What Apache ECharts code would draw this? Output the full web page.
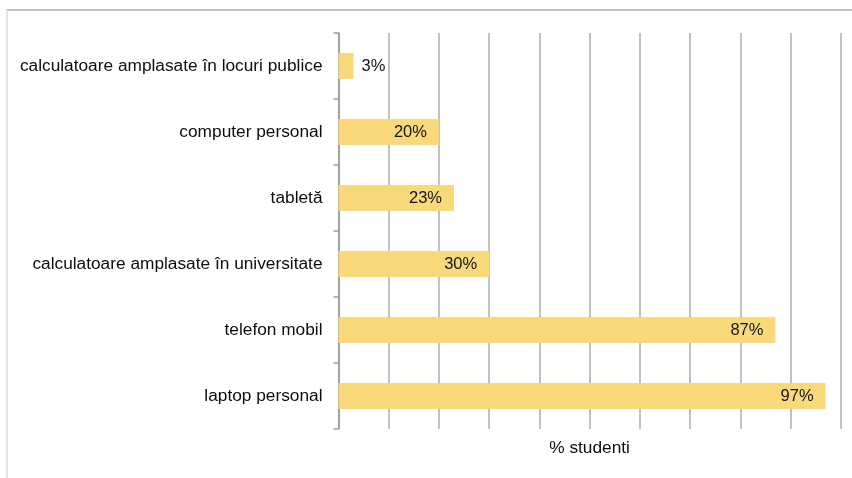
<!DOCTYPE html>
<html>
<head>
<meta charset="utf-8">
<script src="https://cdn.jsdelivr.net/npm/echarts@6/dist/echarts.min.js"></script>
<style>
html,body{margin:0;padding:0;background:#fff;}
#frame{position:absolute;left:6px;top:9px;width:846px;height:469px;border-top:2px solid #c4c4c4;border-left:2px solid #e6e6e6;box-sizing:border-box;}
#chart{position:absolute;left:0;top:0;width:852px;height:478px;}
</style>
</head>
<body>
<div id="frame"></div>
<div id="chart"></div>
<script>
const categories = [
  'calculatoare amplasate în locuri publice',
  'computer personal',
  'tabletă',
  'calculatoare amplasate în universitate',
  'telefon mobil',
  'laptop personal'
];
const values = [3, 20, 23, 30, 87, 97];
const axisName = '% studenti';

const chart = echarts.init(document.getElementById('chart'), null, {renderer: 'canvas'});
const font = '"Liberation Sans", Arial, sans-serif';
chart.setOption({
  animation: false,
  grid: {left: 338.5, right: 11.3, top: 33, bottom: 49, containLabel: false, outerBoundsMode: 'none'},
  xAxis: {
    type: 'value', min: 0, max: 100, interval: 10,
    axisLine: {show: false}, axisTick: {show: false}, axisLabel: {show: false},
    splitLine: {show: true, lineStyle: {color: '#adadad', width: 1.5}},
    name: axisName, nameLocation: 'middle', nameGap: 11,
    nameTextStyle: {color: '#0d0d0d', fontSize: 17.3, fontFamily: font}
  },
  yAxis: {
    type: 'category', data: categories, inverse: true,
    axisLine: {show: true, lineStyle: {color: '#9a9a9a', width: 1.5}},
    axisTick: {show: true, length: 5, lineStyle: {color: '#9a9a9a', width: 1.5}},
    axisLabel: {color: '#0d0d0d', fontSize: 17.3, fontFamily: font, margin: 16},
    splitLine: {show: false}
  },
  series: [{
    type: 'bar', barWidth: 26,
    data: values.map((v, i) => i === 0 ? {value: v, label: {position: 'right', distance: 8}} : v),
    itemStyle: {color: '#FAD97B'},
    label: {
      show: true,
      formatter: p => p.value + '%',
      color: '#141414', fontSize: 16.5, fontFamily: font,
      position: 'insideRight', distance: 12
    }
  }]
});
</script>
</body>
</html>
